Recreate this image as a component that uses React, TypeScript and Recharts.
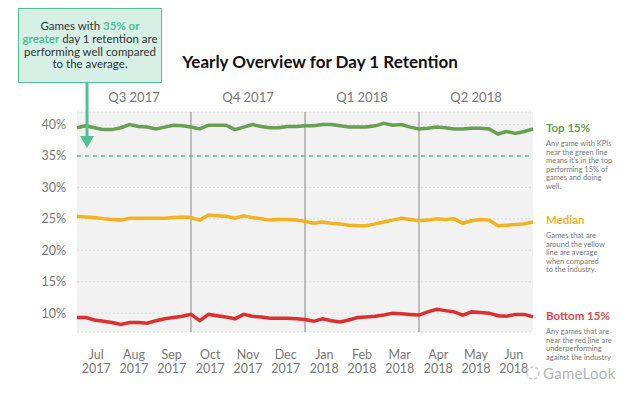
import React from "react";
import {
  LineChart,
  Line,
  XAxis,
  YAxis,
  CartesianGrid,
  ReferenceLine,
} from "recharts";

// weeks from Jul 2017 to end of Jun 2018
const weeks = [
  0, 1, 2, 3, 4, 5, 6, 7, 8, 9, 10, 11, 12, 13, 14, 15, 16, 17, 18, 19, 20, 21, 22, 23, 24, 25, 26,
  27, 28, 29, 30, 31, 32, 33, 34, 35, 36, 37, 38, 39, 40, 41, 42, 43, 44, 45, 46, 47, 48, 49, 50, 51, 52,
];

const top15 = [
  39.5, 39.8, 39.5, 39.2, 39.2, 39.5, 40.0, 39.7, 39.6, 39.3, 39.6, 39.9, 39.8, 39.6, 39.3, 39.9, 39.9,
  39.9, 39.2, 39.6, 40.0, 39.7, 39.5, 39.5, 39.7, 39.7, 39.8, 39.8, 40.0, 40.0, 39.8, 39.6, 39.6, 39.6,
  39.8, 40.2, 39.9, 40.0, 39.6, 39.3, 39.4, 39.6, 39.5, 39.3, 39.3, 39.4, 39.4, 39.3, 38.5, 38.9, 38.6,
  38.9, 39.3,
];

const median = [
  25.4, 25.3, 25.2, 25.0, 24.9, 24.8, 25.1, 25.1, 25.1, 25.1, 25.1, 25.2, 25.3, 25.2, 24.8, 25.6, 25.5,
  25.4, 25.1, 25.5, 25.2, 25.0, 24.8, 24.9, 24.9, 24.8, 24.6, 24.3, 24.5, 24.3, 24.2, 24.0, 23.9, 23.9,
  24.2, 24.5, 24.8, 25.1, 24.9, 24.7, 24.8, 25.0, 24.9, 25.0, 24.3, 24.7, 24.9, 24.8, 23.9, 24.0, 24.1,
  24.2, 24.5,
];

const bottom15 = [
  9.3, 9.3, 8.9, 8.7, 8.5, 8.2, 8.5, 8.5, 8.4, 8.8, 9.1, 9.3, 9.5, 9.8, 8.8, 9.8, 9.6, 9.4, 9.1, 9.8,
  9.5, 9.4, 9.2, 9.2, 9.2, 9.1, 9.0, 8.7, 9.1, 8.8, 8.6, 8.9, 9.3, 9.4, 9.5, 9.7, 10.0, 9.9, 9.8, 9.7,
  10.2, 10.6, 10.4, 10.2, 9.7, 10.2, 10.1, 10.0, 9.6, 9.5, 9.8, 9.8, 9.4,
];

const monthTicks = [2.2, 6.5, 10.8, 15.2, 19.5, 23.8, 28.2, 32.5, 36.8, 41.2, 45.5, 49.8];
const monthNames = ["Jul", "Aug", "Sep", "Oct", "Nov", "Dec", "Jan", "Feb", "Mar", "Apr", "May", "Jun"];
const monthYears = ["2017", "2017", "2017", "2017", "2017", "2017", "2018", "2018", "2018", "2018", "2018", "2018"];

const quarterTicks = [6.5, 19.5, 32.5, 45.5];
const quarterLabels = ["Q3 2017", "Q4 2017", "Q1 2018", "Q2 2018"];
const quarterBreaks = [13, 26, 39];

const yTicks = [10, 15, 20, 25, 30, 35, 40];

const topNote = ["Any game with KPIs", "near the green line", "means it's in the top", "performing 15% of", "games and doing", "well."];
const medianNote = ["Games that are", "around the yellow", "line are average", "when compared", "to the industry."];
const bottomNote = ["Any games that are", "near the red line are", "underperforming", "against the industry"];

const data = weeks.map((w, i) => ({
  week: w,
  top: top15[i],
  median: median[i],
  bottom: bottom15[i],
}));

const FONT = "Lato, 'Open Sans', sans-serif";
const GREEN = "#66a050";
const YELLOW = "#f3b21f";
const RED = "#dd2f2f";
const TEAL = "#4fc195";

const MonthTick = (props: any) => {
  const { x, y, index } = props;
  return (
    <g>
      <text x={x} y={y + 19} textAnchor="middle" fill="#777" fontSize={12.5} fontFamily={FONT}>
        {monthNames[index]}
      </text>
      <text x={x} y={y + 33} textAnchor="middle" fill="#777" fontSize={12.5} fontFamily={FONT}>
        {monthYears[index]}
      </text>
    </g>
  );
};

const QuarterTick = (props: any) => {
  const { x, y, index } = props;
  return (
    <text x={x} y={y - 2} textAnchor="middle" fill="#777" fontSize={13} fontFamily={FONT}>
      {quarterLabels[index]}
    </text>
  );
};

const sideTitle = (color: string): React.CSSProperties => ({
  fontWeight: 700,
  fontSize: 11.5,
  color,
  marginBottom: 6,
});

const sideText: React.CSSProperties = {
  fontSize: 7.5,
  lineHeight: "8.5px",
  color: "#777",
  whiteSpace: "nowrap",
};

const Note = ({ lines }: { lines: string[] }) => (
  <div style={sideText}>
    {lines.map((l, i) => (
      <div key={i}>{l}</div>
    ))}
  </div>
);

export default function App() {
  return (
    <div
      style={{
        position: "absolute",
        left: 0,
        top: 0,
        width: 640,
        height: 395,
        background: "#fff",
        fontFamily: FONT,
        overflow: "hidden",
      }}
    >
      <LineChart
        width={640}
        height={395}
        data={data}
        margin={{ top: 82, right: 107, bottom: 8, left: 0 }}
      >
        <CartesianGrid
          vertical={false}
          fill="#f2f2f2"
          stroke="#dcdcdc"
          strokeDasharray="2 2"
        />
        <XAxis
          dataKey="week"
          type="number"
          domain={[0, 52]}
          ticks={monthTicks}
          interval={0}
          tick={<MonthTick />}
          tickLine={false}
          axisLine={false}
          height={55}
        />
        <XAxis
          xAxisId="q"
          orientation="top"
          type="number"
          domain={[0, 52]}
          ticks={quarterTicks}
          interval={0}
          tick={<QuarterTick />}
          tickLine={false}
          axisLine={false}
          height={30}
        />
        <YAxis
          type="number"
          domain={[7, 42]}
          ticks={yTicks}
          interval={0}
          tickFormatter={(v) => `${v}%`}
          tick={{ fill: "#777", fontSize: 12.5, fontFamily: FONT }}
          tickLine={false}
          axisLine={false}
          width={77}
          tickMargin={5}
        />
        {quarterBreaks.map((q) => (
          <ReferenceLine key={q} x={q} stroke="#aaa" strokeWidth={1.5} />
        ))}
        <ReferenceLine y={35} stroke={TEAL} strokeDasharray="4 4" strokeWidth={1.3} />
        <Line
          type="linear"
          dataKey="top"
          stroke={GREEN}
          strokeWidth={3.5}
          dot={false}
          isAnimationActive={false}
        />
        <Line
          type="linear"
          dataKey="median"
          stroke={YELLOW}
          strokeWidth={3.5}
          dot={false}
          isAnimationActive={false}
        />
        <Line
          type="linear"
          dataKey="bottom"
          stroke={RED}
          strokeWidth={3.5}
          dot={false}
          isAnimationActive={false}
        />
      </LineChart>

      {/* title */}
      <div
        style={{
          position: "absolute",
          left: 0,
          width: 640,
          top: 51,
          textAlign: "center",
          fontWeight: 700,
          fontSize: 17,
          color: "#111",
        }}
      >
        Yearly Overview for Day 1 Retention
      </div>

      {/* callout */}
      <div
        style={{
          position: "absolute",
          left: 18,
          top: 8,
          width: 144,
          height: 75,
          background: "#d7f0e5",
          border: `1px solid ${TEAL}`,
          boxSizing: "border-box",
          display: "flex",
          alignItems: "center",
          justifyContent: "center",
          textAlign: "center",
          fontSize: 11.5,
          lineHeight: "12.6px",
          color: "#333",
        }}
      >
        <div>
          Games with <b style={{ color: TEAL }}>35% or</b>
          <br />
          <b style={{ color: TEAL }}>greater</b> day 1 retention are
          <br />
          performing well compared
          <br />
          to the average.
        </div>
      </div>
      <svg
        width={640}
        height={395}
        style={{ position: "absolute", left: 0, top: 0, pointerEvents: "none" }}
      >
        <line x1={87} y1={83} x2={87} y2={138} stroke={TEAL} strokeWidth={3} />
        <polygon points="80,136 94,136 87,148" fill={TEAL} />
        <circle cx={533} cy={373} r={6} fill="none" stroke="#c8c8c8" strokeWidth={1.5} strokeDasharray="3 2" />
      </svg>

      {/* side notes */}
      <div style={{ position: "absolute", left: 546, top: 121 }}>
        <div style={sideTitle(GREEN)}>Top 15%</div>
        <Note lines={topNote} />
      </div>
      <div style={{ position: "absolute", left: 546, top: 213 }}>
        <div style={sideTitle(YELLOW)}>Median</div>
        <Note lines={medianNote} />
      </div>
      <div style={{ position: "absolute", left: 546, top: 309 }}>
        <div style={sideTitle("#dd4a4a")}>Bottom 15%</div>
        <Note lines={bottomNote} />
      </div>

      {/* watermark */}
      <div
        style={{
          position: "absolute",
          left: 543,
          top: 365,
          fontSize: 15,
          lineHeight: "16px",
          color: "#b5b5b5",
          letterSpacing: 0.3,
        }}
      >
        GameLook
      </div>
    </div>
  );
}
